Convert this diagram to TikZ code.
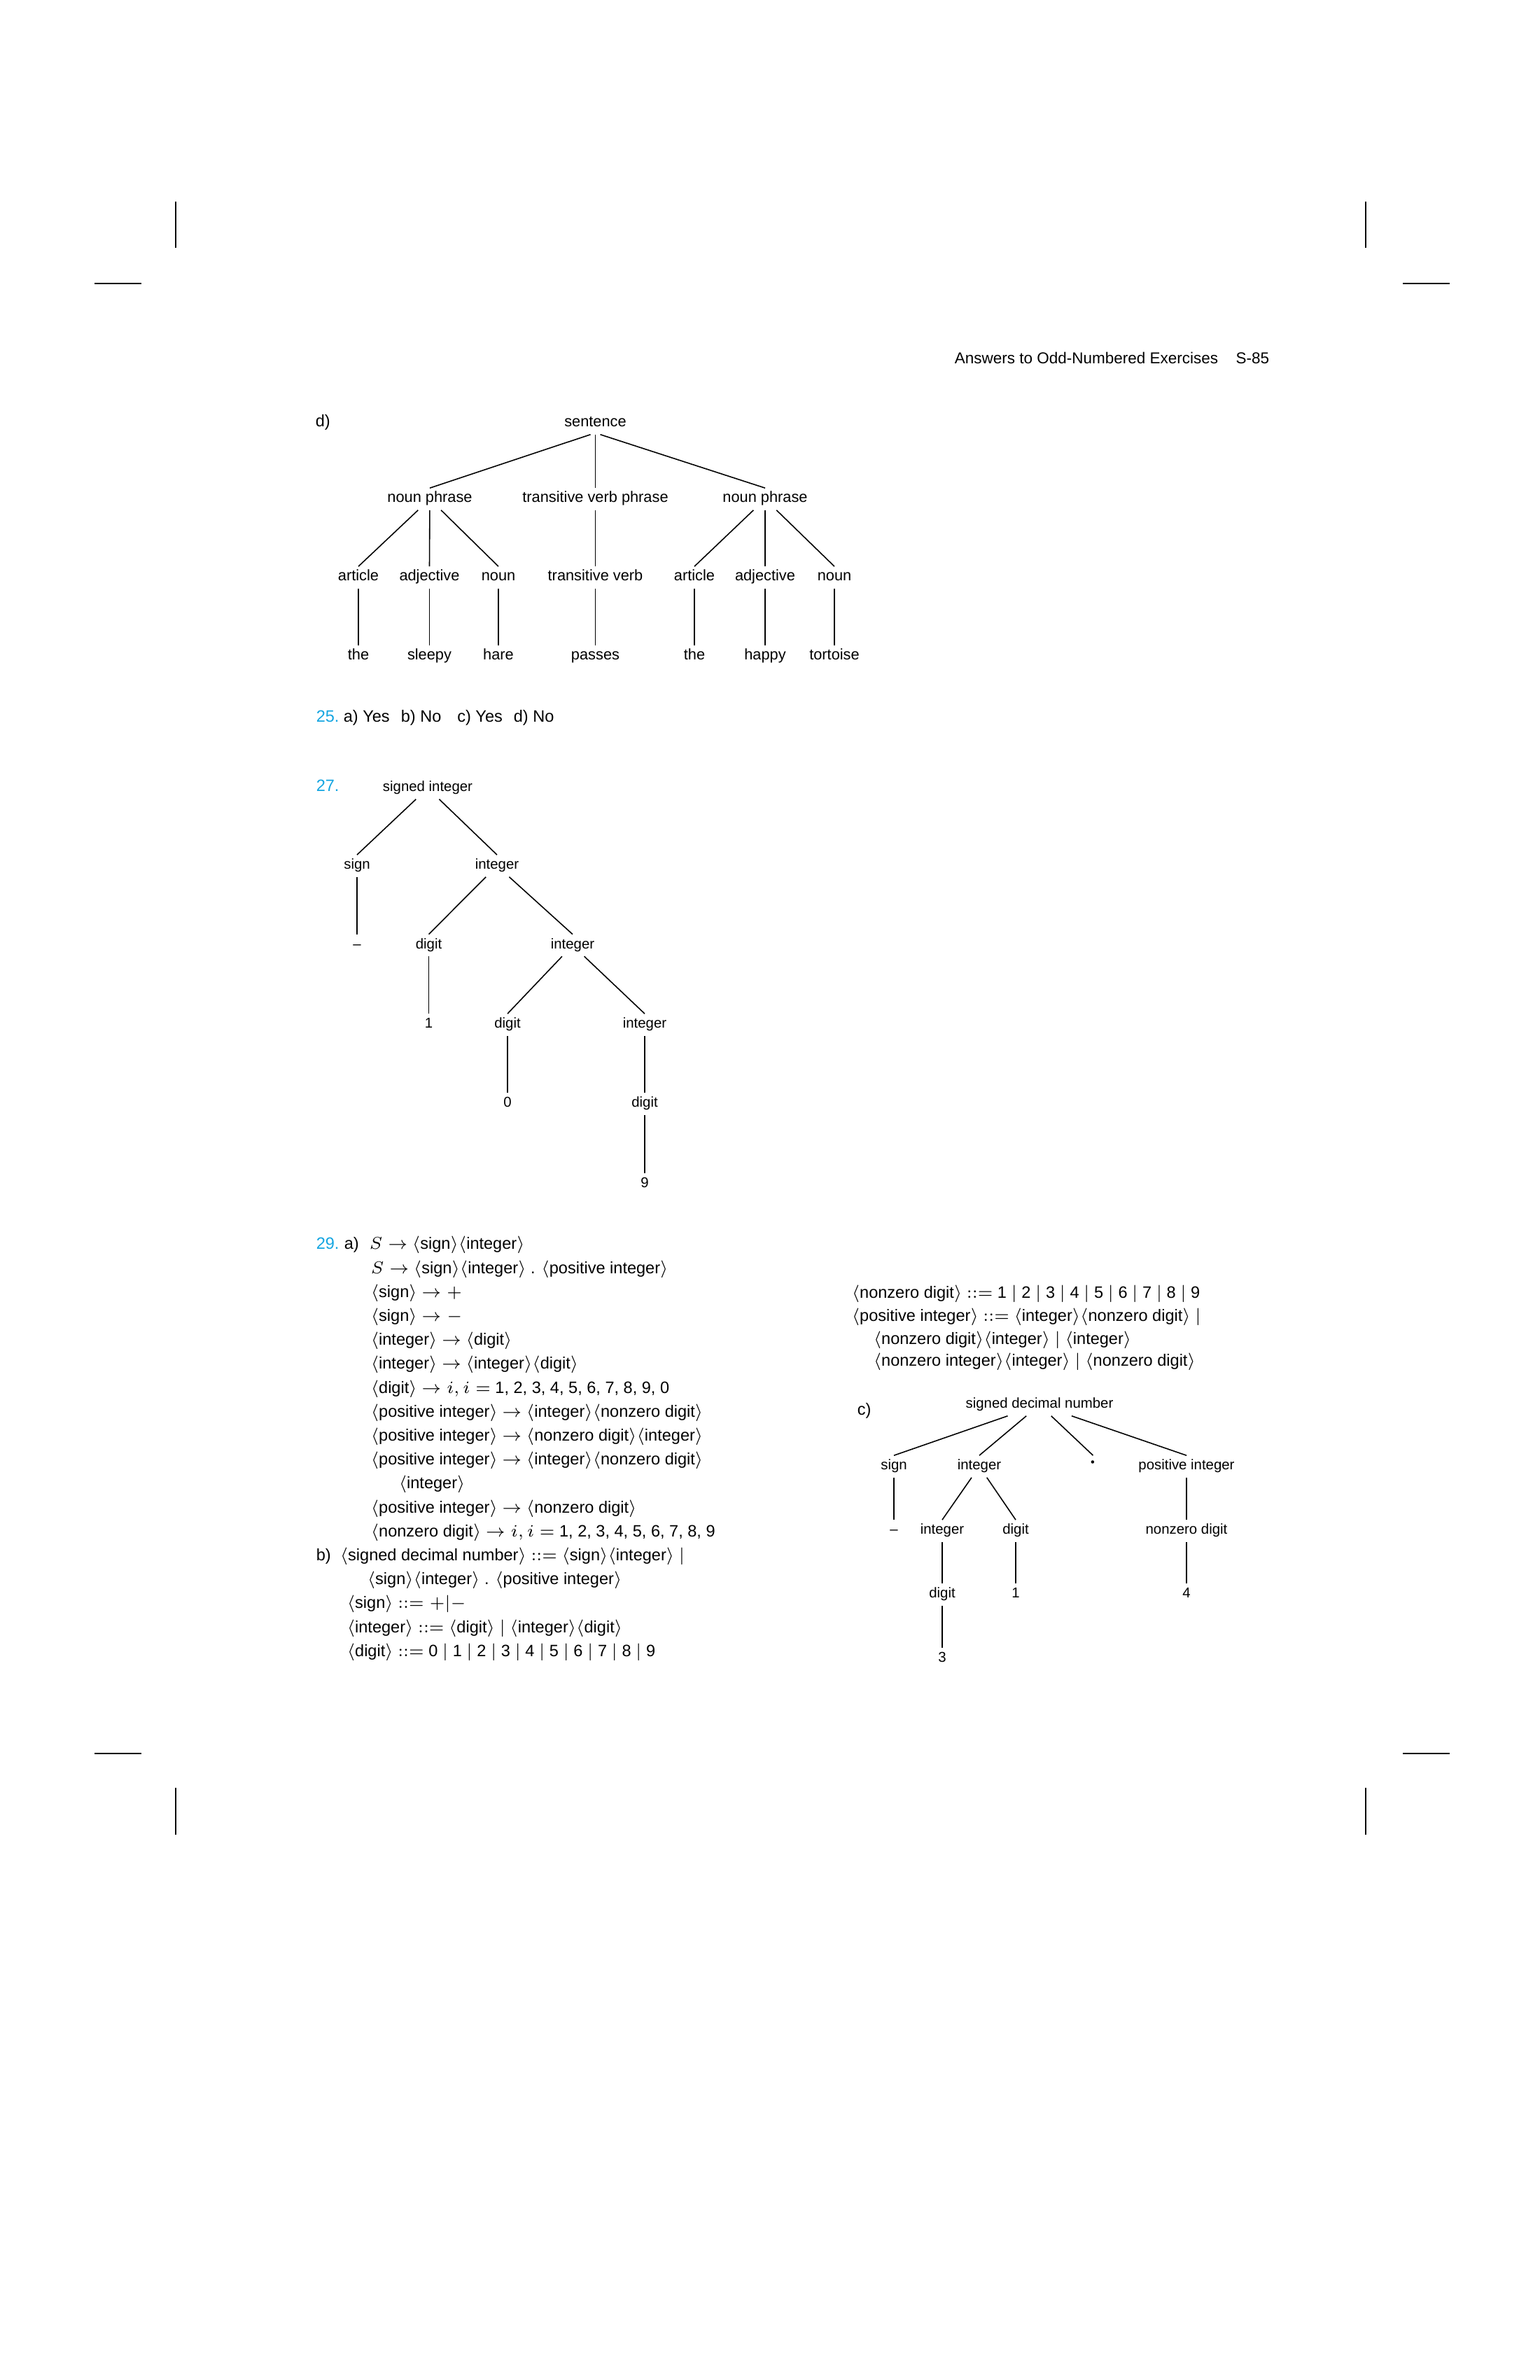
\documentclass[tikz,border=0pt]{standalone}
\usepackage{fontspec}
\setmainfont{Liberation Sans}
\definecolor{ansblue}{RGB}{20,165,225}
\newcommand{\nt}[1]{$\langle$#1$\rangle$}
\newcommand{\bodyfont}{\fontsize{6.7}{8}\selectfont}
\newcommand{\treefont}{\fontsize{5.8}{7}\selectfont}
\tikzset{
	tn/.style={font=\treefont, anchor=base, inner xsep=0.5mm, inner ysep=0.35mm, text height=1.65mm, text depth=0.65mm},
	big/.style={font=\fontsize{6.2}{7}\selectfont},
	txt/.style={font=\bodyfont, anchor=base west, inner sep=0pt},
	num/.style={txt, text=ansblue},
	crop/.style={line width=0.4pt},
}
\begin{document}
\begin{tikzpicture}[line width=0.45pt]
		\useasboundingbox (0,0) rectangle (22,34);
		
		% crop marks
		\foreach \x in {2.51,19.51}
		{\draw[crop] (\x,31.12) -- (\x,30.46);
		 \draw[crop] (\x,8.46) -- (\x,7.79);}
		\foreach \x in {1.35,20.04}
		{\draw[crop,line width=0.6pt] (\x,29.95) -- ++(0.67,0);
		 \draw[crop,line width=0.6pt] (\x,8.95) -- ++(0.67,0);}
		
		\node[txt,font=\fontsize{6.4}{8}\selectfont] (head) at (13.63,28.80) {Answers to Odd-Numbered Exercises};
		\node[txt,font=\fontsize{6.4}{8}\selectfont,anchor=base east] (page) at (18.14,28.80) {S-85};
		
		% d) parse tree
		\node[txt] (lbld) at (4.50,27.90) {d)};
		\node[tn,big] (sent) at (8.505,27.90) {sentence};
		
		\node[tn,big] (np1) at (6.14,26.82) {noun phrase};
		\node[tn,big] (tvp) at (8.505,26.82) {transitive verb phrase};
		\node[tn,big] (np2) at (10.93,26.82) {noun phrase};
		
		\node[tn,big] (art1) at (5.12,25.70) {article};
		\node[tn,big] (adj1) at (6.135,25.70) {adjective};
		\node[tn,big] (noun1) at (7.12,25.70) {noun};
		\node[tn,big] (tv) at (8.505,25.70) {transitive verb};
		\node[tn,big] (art2) at (9.92,25.70) {article};
		\node[tn,big] (adj2) at (10.93,25.70) {adjective};
		\node[tn,big] (noun2) at (11.92,25.70) {noun};
		
		\node[tn,big] (the1) at (5.12,24.57) {the};
		\node[tn,big] (sleepy) at (6.135,24.57) {sleepy};
		\node[tn,big] (hare) at (7.12,24.57) {hare};
		\node[tn,big] (passes) at (8.505,24.57) {passes};
		\node[tn,big] (the2) at (9.92,24.57) {the};
		\node[tn,big] (happy) at (10.93,24.57) {happy};
		\node[tn,big] (tortoise) at (11.92,24.57) {tortoise};
		
		\draw ([xshift=-0.7mm]sent.south) -- (np1.north);
		\draw (sent.south) -- (tvp.north);
		\draw ([xshift=0.7mm]sent.south) -- (np2.north);
		\draw (np1) -- (art1.north);
		\draw (np1) -- (adj1.north);
		\draw (np1) -- (noun1.north);
		\draw (tvp) -- (tv.north);
		\draw (np2) -- (art2.north);
		\draw (np2) -- (adj2.north);
		\draw (np2) -- (noun2.north);
		\draw (art1) -- (the1.north);
		\draw (adj1) -- (sleepy.north);
		\draw (noun1) -- (hare.north);
		\draw (tv) -- (passes.north);
		\draw (art2) -- (the2.north);
		\draw (adj2) -- (happy.north);
		\draw (noun2) -- (tortoise.north);
		
		% 25.
		\node[num] (n25) at (4.51,23.68) {25.};
		\node[txt] (a25) at (4.90,23.68) {a) Yes};
		\node[txt] (b25) at (5.72,23.68) {b) No};
		\node[txt] (c25) at (6.525,23.68) {c) Yes};
		\node[txt] (d25) at (7.33,23.68) {d) No};
		
		% 27. parse tree
		\node[num] (n27) at (4.51,22.69) {27.};
		\node[tn] (si) at (6.11,22.69) {signed integer};
		\node[tn] (sg) at (5.10,21.58) {sign};
		\node[tn] (i1) at (7.10,21.58) {integer};
		\node[tn] (mn) at (5.10,20.445) {--};
		\node[tn] (d1) at (6.125,20.445) {digit};
		\node[tn] (i2) at (8.18,20.445) {integer};
		\node[tn] (one) at (6.125,19.31) {1};
		\node[tn] (d2) at (7.25,19.31) {digit};
		\node[tn] (i3) at (9.21,19.31) {integer};
		\node[tn] (zero) at (7.25,18.18) {0};
		\node[tn] (d3) at (9.21,18.18) {digit};
		\node[tn] (nine) at (9.21,17.03) {9};
		
		\draw (si) -- (sg.north);
		\draw (si) -- (i1.north);
		\draw (sg) -- (mn.north);
		\draw (i1) -- (d1.north);
		\draw (i1) -- (i2.north);
		\draw (d1) -- (one.north);
		\draw (i2) -- (d2.north);
		\draw (i2) -- (i3.north);
		\draw (d2) -- (zero.north);
		\draw (i3) -- (d3.north);
		\draw (d3) -- (nine.north);
		
		% 29. grammar
		\node[num] (n29) at (4.51,16.15) {29.};
		\node[txt] (a29) at (4.91,16.15) {a)};
		\node[txt] (g1) at (5.27,16.15) {$S \rightarrow$ \nt{sign}\nt{integer}};
		\node[txt] (g2) at (5.29,15.808) {$S \rightarrow$ \nt{sign}\nt{integer} . \nt{positive integer}};
		\node[txt] (g3) at (5.29,15.466) {\nt{sign} $\rightarrow +$};
		\node[txt] (g4) at (5.29,15.124) {\nt{sign} $\rightarrow -$};
		\node[txt] (g5) at (5.29,14.782) {\nt{integer} $\rightarrow$ \nt{digit}};
		\node[txt] (g6) at (5.29,14.44) {\nt{integer} $\rightarrow$ \nt{integer}\nt{digit}};
		\node[txt] (g7) at (5.29,14.098) {\nt{digit} $\rightarrow i, i =$ 1, 2, 3, 4, 5, 6, 7, 8, 9, 0};
		\node[txt] (g8) at (5.29,13.756) {\nt{positive integer} $\rightarrow$ \nt{integer}\nt{nonzero digit}};
		\node[txt] (g9) at (5.29,13.414) {\nt{positive integer} $\rightarrow$ \nt{nonzero digit}\nt{integer}};
		\node[txt] (g10) at (5.29,13.072) {\nt{positive integer} $\rightarrow$ \nt{integer}\nt{nonzero digit}};
		\node[txt] (g11) at (5.69,12.73) {\nt{integer}};
		\node[txt] (g12) at (5.29,12.388) {\nt{positive integer} $\rightarrow$ \nt{nonzero digit}};
		\node[txt] (g13) at (5.29,12.046) {\nt{nonzero digit} $\rightarrow i, i =$ 1, 2, 3, 4, 5, 6, 7, 8, 9};
		\node[txt] (b29) at (4.51,11.704) {b)};
		\node[txt] (h1) at (4.85,11.704) {\nt{signed decimal number} $::=$ \nt{sign}\nt{integer} $|$};
		\node[txt] (h2) at (5.24,11.362) {\nt{sign}\nt{integer} . \nt{positive integer}};
		\node[txt] (h3) at (4.95,11.02) {\nt{sign} $::= +|-$};
		\node[txt] (h4) at (4.95,10.678) {\nt{integer} $::=$ \nt{digit} $|$ \nt{integer}\nt{digit}};
		\node[txt] (h5) at (4.95,10.336) {\nt{digit} $::=$ 0 $|$ 1 $|$ 2 $|$ 3 $|$ 4 $|$ 5 $|$ 6 $|$ 7 $|$ 8 $|$ 9};
		
		\node[txt] (r1) at (12.16,15.45) {\nt{nonzero digit} $::=$ 1 $|$ 2 $|$ 3 $|$ 4 $|$ 5 $|$ 6 $|$ 7 $|$ 8 $|$ 9};
		\node[txt] (r2) at (12.16,15.125) {\nt{positive integer} $::=$ \nt{integer}\nt{nonzero digit} $|$};
		\node[txt] (r3) at (12.47,14.795) {\nt{nonzero digit}\nt{integer} $|$ \nt{integer}};
		\node[txt] (r4) at (12.47,14.485) {\nt{nonzero integer}\nt{integer} $|$ \nt{nonzero digit}};
		
		% c) parse tree
		\node[txt] (lblc) at (12.24,13.78) {c)};
		\node[tn] (sdn) at (14.85,13.88) {signed decimal number};
		\node[tn] (sg2) at (12.77,13.00) {sign};
		\node[tn] (i4) at (13.99,13.00) {integer};
		\node[tn] (dec) at (15.615,13.00) {\fontsize{12}{12}\selectfont$\cdot$};
		\node[tn] (pint) at (16.95,13.00) {positive integer};
		\node[tn] (mn2) at (12.77,12.08) {--};
		\node[tn] (i5) at (13.46,12.08) {integer};
		\node[tn] (d4) at (14.51,12.08) {digit};
		\node[tn] (nzd) at (16.95,12.08) {nonzero digit};
		\node[tn] (d5) at (13.46,11.17) {digit};
		\node[tn] (one2) at (14.51,11.17) {1};
		\node[tn] (four) at (16.95,11.17) {4};
		\node[tn] (three) at (13.46,10.25) {3};
		
		\draw (sdn) -- (sg2.north);
		\draw (sdn) -- (i4.north);
		\draw (sdn) -- (dec.north);
		\draw (sdn) -- (pint.north);
		\draw (sg2) -- (mn2.north);
		\draw (i4) -- (i5.north);
		\draw (i4) -- (d4.north);
		\draw (pint) -- (nzd.north);
		\draw (i5) -- (d5.north);
		\draw (d4) -- (one2.north);
		\draw (nzd) -- (four.north);
		\draw (d5) -- (three.north);
\end{tikzpicture}
\end{document}
